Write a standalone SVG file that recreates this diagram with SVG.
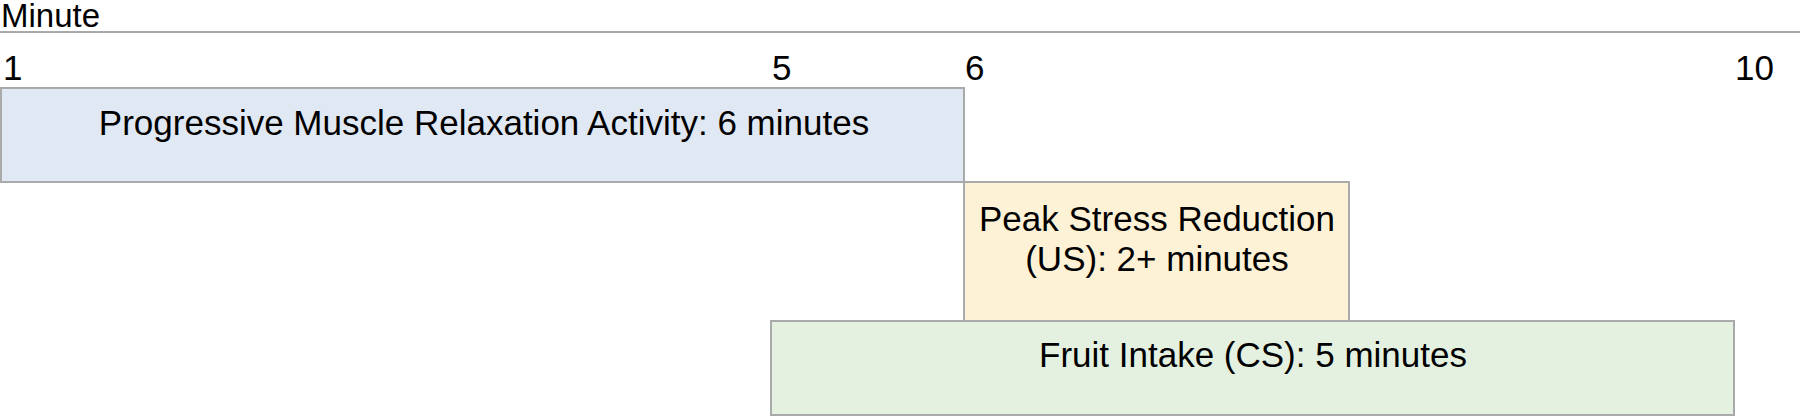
<svg xmlns="http://www.w3.org/2000/svg" width="1800" height="416" viewBox="0 0 1800 416">
<style>
text{font-family:"Liberation Sans",Arial,sans-serif;font-size:35px;fill:#000}
.c{text-anchor:middle}
.box{stroke:#aaaaaa;stroke-width:2}
</style>
<rect width="1800" height="416" fill="#ffffff"/>
<g id="axis">
<text x="1" y="27" style="font-size:33px">Minute</text>
<line x1="0" y1="32" x2="1800" y2="32" stroke="#aaaaaa" stroke-width="2"/>
<text x="3" y="80">1</text>
<text x="772" y="80">5</text>
<text x="965" y="80">6</text>
<text x="1735" y="80">10</text>
</g>
<g id="pmr">
<rect class="box" x="1" y="88" width="963" height="94" fill="#e0e8f3"/>
<text class="c" x="484" y="135">Progressive Muscle Relaxation Activity: 6 minutes</text>
</g>
<g id="peak">
<rect class="box" x="964" y="182" width="385" height="139" fill="#fef2d6"/>
<text class="c" x="1157" y="231">Peak Stress Reduction</text>
<text class="c" x="1157" y="271">(US): 2+ minutes</text>
</g>
<g id="fruit">
<rect class="box" x="771" y="321" width="963" height="94" fill="#e4f0e0"/>
<text class="c" x="1253" y="367">Fruit Intake (CS): 5 minutes</text>
</g>
<g id="connectors"></g>
</svg>
